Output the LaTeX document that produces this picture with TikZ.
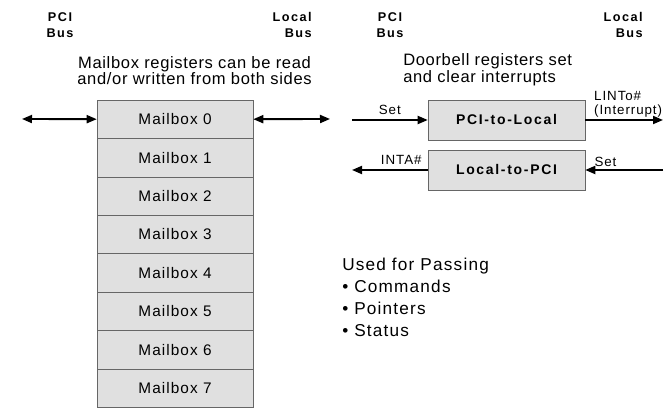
\documentclass[tikz,border=0pt]{standalone}
\usepackage{fontspec}
\setmainfont{Liberation Sans}
\newfontfamily\trackfont[LetterSpace=7]{Liberation Sans}
\newfontfamily\narrowfont[LetterSpace=4]{Liberation Sans}
\newfontfamily\widefont[LetterSpace=12]{Liberation Sans}
\usetikzlibrary{arrows.meta}

\begin{document}
\begin{tikzpicture}[x=0.75pt,y=-0.75pt,
  reg/.style={draw=black!60,fill=black!12,inner sep=0pt},
  mailbox/.style={reg,minimum width=117pt,minimum height=28.8pt,font=\trackfont\fontsize{11.5}{13}\selectfont},
  bell/.style={reg,minimum width=117.75pt,minimum height=30pt,font=\widefont\bfseries\fontsize{10.5}{12}\selectfont},
  bus/.style={inner sep=0pt,font=\widefont\bfseries\fontsize{9.5}{12}\selectfont},
  note/.style={inner sep=0pt,font=\narrowfont\fontsize{12.4}{11.25}\selectfont},
  lbl/.style={font=\trackfont\fontsize{10}{11}\selectfont},
  link/.style={line width=1.4pt,-{Triangle[length=7.5pt,width=6pt]}},
  both/.style={line width=1.4pt,{Triangle[length=7.5pt,width=6pt]}-{Triangle[length=7.5pt,width=6pt]}}]
\useasboundingbox (0,0) rectangle (665,409);

\node[bus,align=center] (pcia) at (60,25) {PCI\\Bus};
\node[bus,align=right,anchor=east] (loca) at (312,25) {Local\\Bus};
\node[bus,align=center] (pcib) at (390,25) {PCI\\Bus};
\node[bus,align=right,anchor=east] (locb) at (643,25) {Local\\Bus};

\node[note,align=center] (mbnote) at (194.5,70.5) {Mailbox registers can be read\\and/or written from both sides};
\node[note,align=left,anchor=west] (dbnote) at (403,70) {Doorbell registers set\\and clear interrupts};

\foreach \i in {0,...,7}
  \node[mailbox] (mb\i) at (175,119.2+38.4*\i) {Mailbox \i};

\coordinate (pcimb) at (22,119);
\coordinate (locmb) at (330,119);
\draw[both] (pcimb) -- (mb0.west);
\draw[both] (mb0.east) -- (locmb);

\node[bell] (ptol) at (506.5,120) {PCI-to-Local};
\node[bell] (ltop) at (506.5,170) {Local-to-PCI};

\coordinate (pciset) at (352,120);
\coordinate (lint) at (663,120);
\coordinate (inta) at (352,170);
\coordinate (locset) at (663,170);

\draw[link] (pciset) -- node[lbl,above] {Set} (ptol.west);
\draw[link] (ptol.east) -- node[lbl,pos=0,anchor=south west,align=left,xshift=5pt,inner sep=1pt] {LINTo\#\\(Interrupt)} (lint);
\draw[link] (ltop.west) -- node[lbl,pos=0.35,above] {INTA\#} (inta);
\draw[link] (locset) -- node[lbl,pos=0.74,above,inner sep=2pt] {Set} (ltop.east);

\node[note,align=left,anchor=west,font=\trackfont\fontsize{12.9}{16.5}\selectfont] (uses) at (342,297) {Used for Passing\\• Commands\\• Pointers\\• Status};
\end{tikzpicture}
\end{document}
